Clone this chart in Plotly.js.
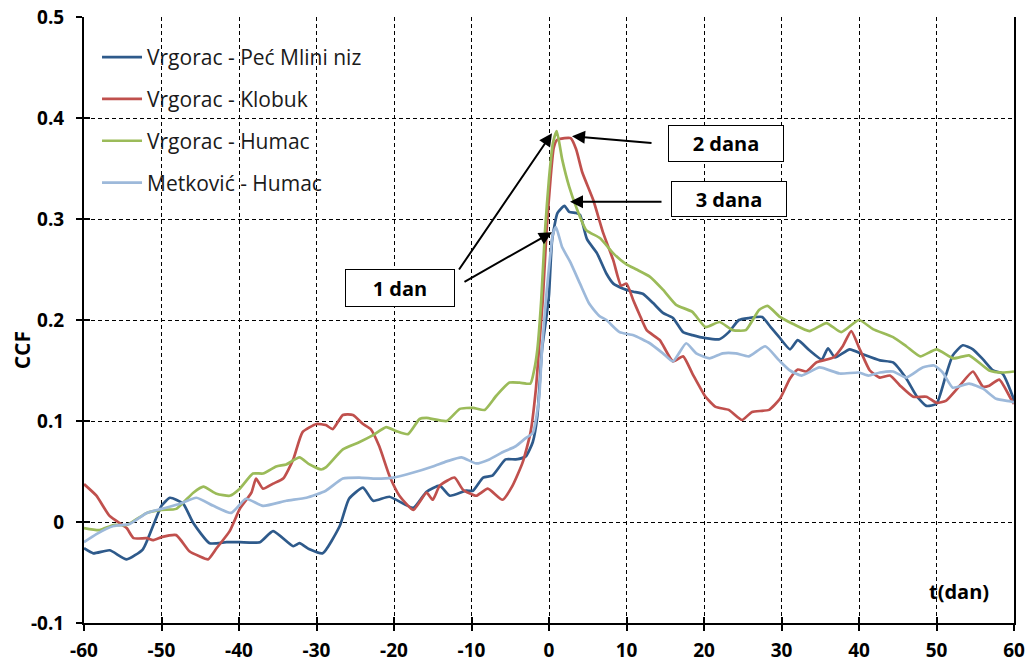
<!DOCTYPE html>
<html><head><meta charset="utf-8">
<script src="https://cdn.plot.ly/plotly-3.0.1.min.js"></script>
<style>html,body{margin:0;padding:0;background:#fff}#c{width:1033px;height:668px}</style>
</head><body><div id="c"></div>
<script>
const seriesNames = ["Vrgorac - Peć Mlini niz", "Vrgorac - Klobuk", "Vrgorac - Humac", "Metković - Humac"];

const pecX = [-60,-58.8,-56.7,-54.5,-52.4,-51.1,-50,-48.9,-47.2,-45.9,-43.8,-41.6,-39.9,-37.3,-35.6,-33,-32.2,-30.9,-29.2,-27,-25.8,-24,-22.7,-20.6,-17.5,-15.8,-14.1,-12.8,-10.7,-9.8,-8.5,-7.3,-5.6,-4.3,-3,-2.1,-1.5,-0.9,-0.3,0,0.4,1.1,2,2.6,3.5,4,4.9,6.2,7.4,8.3,9.6,10.4,10.9,12.1,13.4,14.7,16,17.3,18.5,20.2,22,23.2,24.5,25.8,27.5,28.6,29.7,31.1,32.1,33.6,35.2,36,36.9,38.8,40.5,42.7,44.4,46.1,47.4,48.7,50,51.2,52.1,53.4,54.7,56,57.3,58.5,59.8,60];
const pecY = [-0.026,-0.031,-0.028,-0.037,-0.027,-0.004,0.016,0.024,0.018,-0.001,-0.021,-0.020,-0.020,-0.020,-0.009,-0.024,-0.021,-0.027,-0.031,-0.004,0.023,0.034,0.021,0.025,0.014,0.030,0.036,0.026,0.031,0.031,0.044,0.046,0.062,0.062,0.065,0.079,0.105,0.171,0.205,0.225,0.279,0.306,0.313,0.307,0.306,0.304,0.280,0.266,0.246,0.236,0.231,0.229,0.228,0.226,0.217,0.207,0.202,0.188,0.185,0.182,0.181,0.188,0.200,0.202,0.203,0.193,0.183,0.171,0.180,0.170,0.161,0.172,0.163,0.171,0.166,0.160,0.158,0.142,0.125,0.115,0.117,0.145,0.165,0.175,0.171,0.161,0.150,0.147,0.125,0.120];

const klobukX = [-60,-58.4,-56.7,-54.5,-53.6,-51.9,-51.1,-50,-48.1,-46.4,-45.1,-44,-42.9,-41.2,-39.9,-38.4,-37.8,-36.9,-35.6,-34.3,-33,-31.8,-30,-28.8,-27.9,-26.6,-25.3,-24,-23,-21.9,-20.6,-19.3,-17.5,-15.8,-15,-14.1,-12.2,-11.1,-9.4,-7.9,-6,-4.7,-3.4,-2.4,-1.7,-1.3,-0.8,-0.3,0.2,0.6,1,2,2.8,3.5,4.3,5.7,7,8.3,9.3,10,10.9,11.7,12.6,14.3,16,17.3,18.5,20.2,21.5,23.2,24.9,26.2,28.4,29.8,31.1,32.1,33.2,34.5,36.7,37.9,39,40.1,41.4,42.7,44,45.3,47,48.7,50,51.2,53,54.7,56,56.8,58.1,59.8,60];
const klobukY = [0.0375,0.026,0.006,-0.006,-0.016,-0.016,-0.018,-0.015,-0.013,-0.029,-0.034,-0.037,-0.026,-0.009,0.013,0.029,0.043,0.033,0.038,0.043,0.062,0.089,0.097,0.096,0.092,0.106,0.106,0.097,0.092,0.075,0.046,0.026,0.012,0.029,0.022,0.036,0.044,0.032,0.026,0.033,0.022,0.036,0.059,0.088,0.131,0.171,0.22,0.29,0.34,0.37,0.378,0.380,0.380,0.369,0.346,0.319,0.286,0.259,0.234,0.236,0.219,0.205,0.190,0.180,0.159,0.164,0.147,0.124,0.114,0.111,0.101,0.109,0.111,0.122,0.142,0.151,0.149,0.158,0.163,0.174,0.189,0.171,0.150,0.143,0.145,0.135,0.124,0.124,0.118,0.120,0.135,0.149,0.134,0.135,0.141,0.119,0.117];

const humacX = [-60,-58,-56.2,-54.5,-51.9,-50,-48.1,-45.9,-44.6,-42.9,-41.2,-39.9,-38.2,-36.9,-35.2,-33.9,-32.2,-30.9,-29.4,-28.8,-26.6,-24.5,-22.7,-21,-19.7,-18.2,-16.7,-15.8,-13.2,-11.5,-9.8,-8.3,-6.8,-5.1,-3.8,-2.4,-1.9,-1.5,-1,-0.5,0,0.5,1,1.7,2.6,3.5,4.8,6.6,8.3,10,11.3,13,14.7,16.4,18.5,20.2,22,23.7,25.4,27.1,28.2,29.8,31.5,33.6,35.8,37.7,40,41.8,44.4,46.1,47.9,50,52.2,54.2,56.8,58.5,60];
const humacY = [-0.006,-0.008,-0.003,-0.003,0.009,0.012,0.013,0.029,0.035,0.028,0.026,0.033,0.048,0.048,0.055,0.057,0.064,0.057,0.052,0.054,0.072,0.079,0.086,0.094,0.090,0.087,0.102,0.103,0.100,0.112,0.113,0.111,0.125,0.138,0.138,0.137,0.151,0.171,0.22,0.29,0.34,0.375,0.387,0.359,0.332,0.312,0.289,0.281,0.266,0.255,0.250,0.243,0.230,0.215,0.208,0.193,0.198,0.190,0.190,0.210,0.214,0.203,0.196,0.189,0.197,0.188,0.200,0.191,0.183,0.174,0.164,0.171,0.162,0.165,0.150,0.148,0.149];

const metkX = [-60,-58.4,-56.2,-54.1,-51.9,-50,-47.6,-45.5,-43.3,-41,-39.1,-36.9,-33.9,-31.3,-28.8,-26.6,-24.5,-22.3,-20.1,-17.5,-15,-13.2,-11.3,-9.4,-7.7,-6,-4.3,-3,-2.1,-1.3,-0.9,-0.4,0,0.5,0.9,1.7,2.7,4,5.2,6.5,7.4,9.1,10.9,13,14.7,16,17.7,19,20.7,22.4,24.1,25.8,27.9,29.7,31.1,32.6,34.9,37.5,40,41.2,42.7,44.4,46.1,48.2,49.7,50.8,52.1,54.2,56,57.7,59.8,60];
const metkY = [-0.020,-0.012,-0.004,-0.002,0.009,0.013,0.018,0.024,0.016,0.009,0.023,0.016,0.021,0.024,0.031,0.043,0.044,0.043,0.044,0.049,0.055,0.060,0.064,0.058,0.062,0.069,0.075,0.083,0.088,0.121,0.171,0.22,0.252,0.285,0.292,0.272,0.258,0.236,0.216,0.204,0.200,0.188,0.185,0.177,0.167,0.159,0.177,0.167,0.162,0.167,0.167,0.164,0.174,0.160,0.150,0.145,0.153,0.147,0.148,0.145,0.148,0.149,0.143,0.153,0.155,0.148,0.133,0.137,0.132,0.122,0.119,0.118];

const xTickVals = [-60,-50,-40,-30,-20,-10,0,10,20,30,40,50,60];
const xTickText = ["-60","-50","-40","-30","-20","-10","0","10","20","30","40","50","60"];
const yTickVals = [-0.1,0,0.1,0.2,0.3,0.4,0.5];
const yTickText = ["-0.1","0","0.1","0.2","0.3","0.4","0.5"];

const labelBoxes = ["2 dana", "3 dana", "1 dan"];
const yTitle = "CCF";
const xTitle = "t(dan)";

const FONT = "'Open Sans', Lato, sans-serif";
const colors = ["#2E5A8B", "#C0504D", "#9BBB59", "#9DB9DA"];
const xs = [pecX, klobukX, humacX, metkX];
const ys = [pecY, klobukY, humacY, metkY];

const traces = seriesNames.map((n, i) => ({
  type: "scatter", mode: "lines", name: n, x: xs[i], y: ys[i],
  legendgroup: "g" + i,
  line: {color: colors[i], width: 2.7, shape: "spline", smoothing: 0.5}
}));
traces.push({type:"scatter", x:[-60,60], y:[-0.1,0.5], xaxis:"x2", yaxis:"y2", mode:"none", showlegend:false, hoverinfo:"skip"});
traces.push({type:"scatter", x:[-60,60], y:[-0.1,0.5], yaxis:"y3", mode:"none", showlegend:false, hoverinfo:"skip"});

const axisFont = {family: FONT, size: 19, color: "#000", weight: "bold"};
const boxFont = {family: FONT, size: 20, color: "#000", weight: "bold"};

const layout = {
  width: 1033, height: 668,
  margin: {l: 84, r: 19, t: 17, b: 45},
  paper_bgcolor: "#fff", plot_bgcolor: "#fff",
  font: {family: FONT, color: "#000"},
  showlegend: true,
  legend: {x: 0.014, y: 0.967, xanchor: "left", yanchor: "top", bgcolor: "rgba(255,255,255,0)",
           font: {family: FONT, size: 21, color: "#1a1a1a"}, tracegroupgap: 11.5, itemwidth: 40},
  xaxis: {range: [-60, 60], tickvals: xTickVals, ticktext: xTickText, tickfont: axisFont,
          showgrid: true, gridcolor: "#000", griddash: "4px,3px", gridwidth: 1,
          showline: true, linecolor: "#000", linewidth: 2, ticks: "outside", ticklen: 6, tickwidth: 2, tickcolor: "#000",
          zeroline: false, ticklabelstandoff: 3},
  yaxis: {range: [-0.1, 0.5], tickvals: yTickVals, ticktext: yTickText, tickfont: axisFont,
          showgrid: true, gridcolor: "#000", griddash: "4px,3px", gridwidth: 1,
          showline: true, linecolor: "#000", linewidth: 2, ticks: "outside", ticklen: 6, tickwidth: 2, tickcolor: "#000",
          zeroline: false, ticklabelstandoff: 8},
  xaxis2: {overlaying: "x", range: [-60, 60], tickvals: xTickVals, showticklabels: false, showgrid: false, zeroline: false,
           ticks: "inside", ticklen: 6, tickwidth: 2, tickcolor: "#000", showline: false, side: "bottom", anchor: "y2"},
  yaxis2: {overlaying: "y", range: [-0.1, 0.5], tickvals: yTickVals, showticklabels: false, showgrid: false, zeroline: false,
           ticks: "inside", ticklen: 6, tickwidth: 2, tickcolor: "#000", showline: false, side: "left", anchor: "x2"},
  yaxis3: {overlaying: "y", range: [-0.1, 0.5], side: "right", showline: true, linecolor: "#000", linewidth: 2,
           showticklabels: false, showgrid: false, zeroline: false, ticks: ""},
  annotations: [
    {x: 22.84, y: 0.375, xref: "x", yref: "y", text: labelBoxes[0], showarrow: false,
     font: boxFont, bgcolor: "#fff", bordercolor: "#000", borderwidth: 1, width: 112, height: 33},
    {x: 23.2, y: 0.320, xref: "x", yref: "y", text: labelBoxes[1], showarrow: false,
     font: boxFont, bgcolor: "#fff", bordercolor: "#000", borderwidth: 1, width: 112, height: 32},
    {x: -19.2, y: 0.232, xref: "x", yref: "y", text: labelBoxes[2], showarrow: false,
     font: boxFont, bgcolor: "#fff", bordercolor: "#000", borderwidth: 1, width: 106, height: 34},
    {x: 2.97, y: 0.382, ax: 13.42, ay: 0.375, xref: "x", yref: "y", axref: "x", ayref: "y", text: "",
     showarrow: true, arrowhead: 2, arrowsize: 1.3, arrowwidth: 2, arrowcolor: "#000"},
    {x: 2.71, y: 0.317, ax: 14.71, ay: 0.317, xref: "x", yref: "y", axref: "x", ayref: "y", text: "",
     showarrow: true, arrowhead: 2, arrowsize: 1.3, arrowwidth: 2, arrowcolor: "#000"},
    {x: 0.39, y: 0.385, ax: -11.74, ay: 0.2485, xref: "x", yref: "y", axref: "x", ayref: "y", text: "",
     showarrow: true, arrowhead: 2, arrowsize: 1.3, arrowwidth: 2, arrowcolor: "#000"},
    {x: 0.39, y: 0.287, ax: -11.1, ay: 0.237, xref: "x", yref: "y", axref: "x", ayref: "y", text: "",
     showarrow: true, arrowhead: 2, arrowsize: 1.3, arrowwidth: 2, arrowcolor: "#000"},
    {x: 52.9, y: -0.069, xref: "x", yref: "y", text: xTitle, showarrow: false,
     font: {family: FONT, size: 20, color: "#000", weight: "bold"}},
    {x: (22 - 84) / (1033 - 84 - 19), y: 0.170, xref: "paper", xanchor: "center", yref: "y", text: yTitle,
     showarrow: false, textangle: -90, font: {family: FONT, size: 21, color: "#000", weight: "bold"}}
  ]
};

Plotly.newPlot("c", traces, layout, {displayModeBar: false, staticPlot: true});
</script>
</body></html>
